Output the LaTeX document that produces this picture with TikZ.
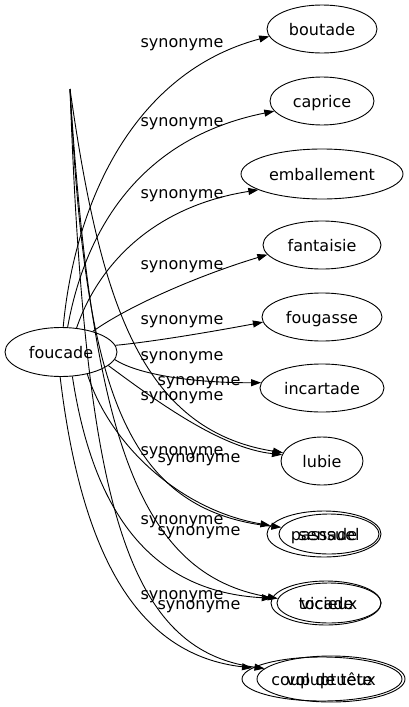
\documentclass[tikz,border=0pt]{standalone}
\usepackage{fontspec}
\setmainfont{DejaVu Sans}
\usetikzlibrary{shapes.geometric,arrows.meta}
\begin{document}
\begin{tikzpicture}[x=1pt,y=-1pt,
  every node/.style={font=\fontsize{16}{19}\selectfont},
  word/.style={ellipse,draw,line width=0.9pt,inner sep=0pt,text height=12pt,text depth=0pt},
  lbl/.style={inner sep=0pt},
  syn/.style={draw,line width=0.9pt,-{Triangle[length=10pt,width=7pt]}}]
\useasboundingbox (0,0) rectangle (409,707);
% nodes
\node[word,minimum width=112pt,minimum height=49pt] (foucade) at (61,352) {foucade};
\node[word,minimum width=110pt,minimum height=48pt] (boutade) at (322,29) {boutade};
\node[word,minimum width=104pt,minimum height=48pt] (caprice) at (322,101) {caprice};
\node[word,minimum width=162pt,minimum height=50pt] (emballement) at (322,174) {emballement};
\node[word,minimum width=118pt,minimum height=48pt] (fantaisie) at (322,245) {fantaisie};
\node[word,minimum width=120pt,minimum height=48pt] (fougasse) at (322,317) {fougasse};
\node[word,minimum width=124pt,minimum height=48pt] (incartade) at (322,388) {incartade};
\node[word,minimum width=82pt,minimum height=48pt] (lubie) at (322,461) {lubie};
\node[word,minimum width=114pt,minimum height=46pt] (passade) at (324,534) {passade};
\node[word,minimum width=100pt,minimum height=40pt] (sensuel) at (329,534) {sensuel};
\node[word,minimum width=110pt,minimum height=44pt] (tocade) at (326,603) {tocade};
\node[word,minimum width=104pt,minimum height=40pt] (vicieux) at (329,603) {vicieux};
\node[word,minimum width=160pt,minimum height=44pt] (coup) at (322,679) {coup de tête};
\node[word,minimum width=148pt,minimum height=46pt] (voluptueux) at (331,679) {voluptueux};
\coordinate (top) at (70,89);
% edges from foucade
\draw[syn] (foucade.85) .. controls (75,200) and (135,72) .. (boutade.188);
\draw[syn] (foucade.75) .. controls (85,230) and (140,138) .. (caprice.192);
\draw[syn] (foucade.57) .. controls (97,268) and (150,207) .. (emballement.194);
\draw[syn] (foucade.33) .. controls (130,305) and (200,275) .. (fantaisie.190);
\draw[syn] (foucade.7) .. controls (150,342) and (205,333) .. (fougasse.185);
\draw[syn] (foucade.-8) .. controls (140,376) and (200,383) .. (incartade.175);
\draw[syn] (foucade.-16) .. controls (155,400) and (220,448) .. (lubie.171);
\draw[syn] (foucade.-40) .. controls (110,445) and (180,510) .. (passade.171);
\draw[syn] (foucade.-65) .. controls (95,525) and (160,592) .. (tocade.175);
\draw[syn] (foucade.-92) .. controls (82,560) and (140,655) .. (coup.171);
% edges from the top point
\draw[syn] (top) .. controls (100,300) and (140,430) .. (lubie.168);
\draw[syn] (top) .. controls (85,380) and (120,510) .. (sensuel.172);
\draw[syn] (top) .. controls (92,440) and (140,575) .. (vicieux.175);
\draw[syn] (top) .. controls (85,500) and (125,650) .. (voluptueux.171);
% labels
\node[lbl] (l1) at (182,45) {synonyme};
\node[lbl] (l2) at (182,124) {synonyme};
\node[lbl] (l3) at (182,196) {synonyme};
\node[lbl] (l4) at (182,267) {synonyme};
\node[lbl] (l5) at (182,322) {synonyme};
\node[lbl] (l6) at (182,358) {synonyme};
\node[lbl] (l7) at (182,398) {synonyme};
\node[lbl] (l8) at (182,453) {synonyme};
\node[lbl] (l9) at (182,522) {synonyme};
\node[lbl] (l10) at (182,597) {synonyme};
\node[lbl] (m1) at (199,383) {synonyme};
\node[lbl] (m2) at (199,460) {synonyme};
\node[lbl] (m3) at (199,533) {synonyme};
\node[lbl] (m4) at (199,607) {synonyme};
\end{tikzpicture}
\end{document}
